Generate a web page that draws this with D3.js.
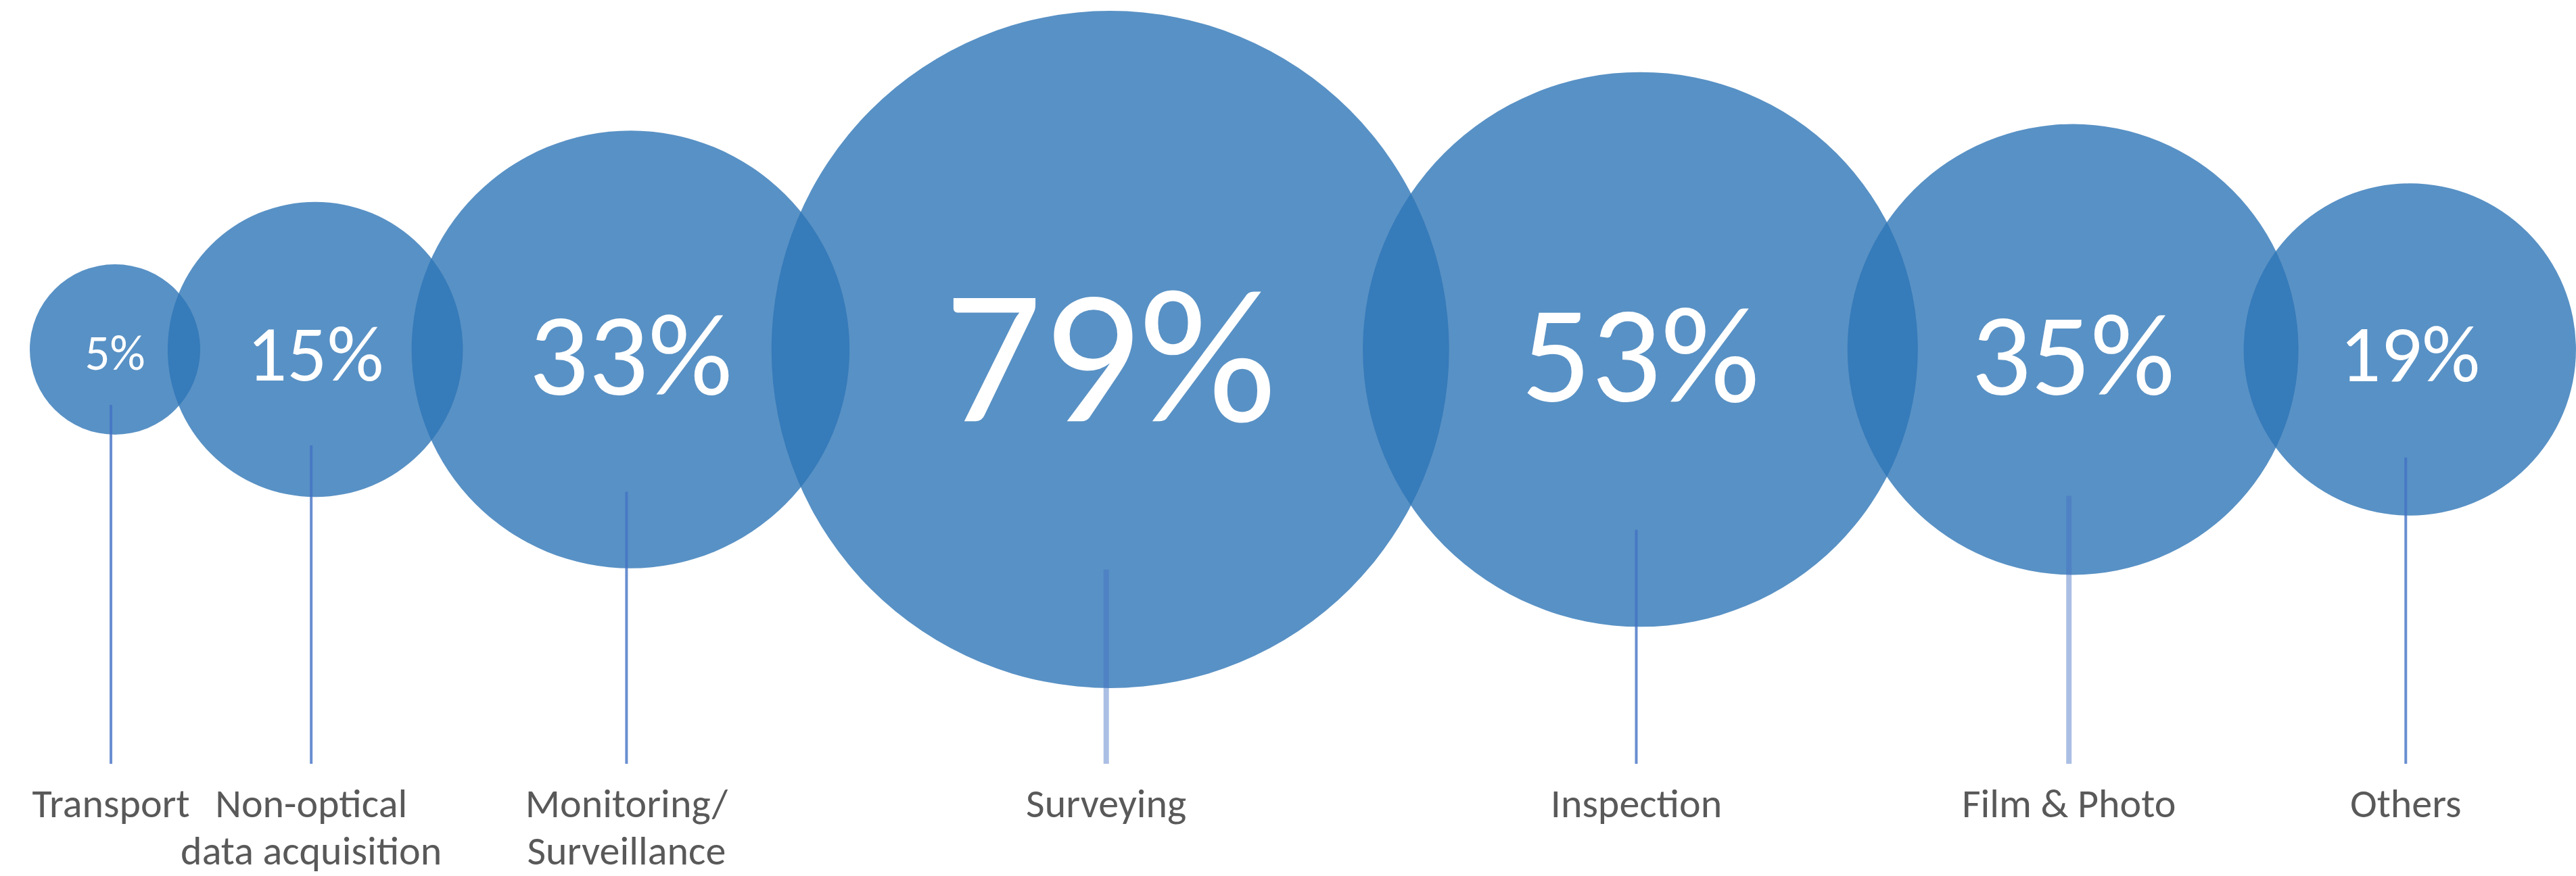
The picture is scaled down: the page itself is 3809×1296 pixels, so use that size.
<!DOCTYPE html>
<html>
<head>
<meta charset="utf-8">
<script src="https://cdn.jsdelivr.net/npm/d3@7"></script>
<style>
  html, body { margin: 0; padding: 0; background: #ffffff; }
  svg { display: block; }
</style>
</head>
<body>
<svg id="chart" width="3809" height="1296"></svg>
<script>
// ---- data ----
const categories = ["Transport", "Non-optical\ndata acquisition", "Monitoring/\nSurveillance", "Surveying", "Inspection", "Film & Photo", "Others"];
const values = [5, 15, 33, 79, 53, 35, 19];
const valueLabels = ["5%", "15%", "33%", "79%", "53%", "35%", "19%"];

// ---- styles (not data) ----
const pctFontSize = [73, 117, 174, 284, 204, 174, 120];
const lineStyle = [
  {w: 4, o: 0.8}, {w: 4, o: 0.8}, {w: 4, o: 0.8}, {w: 8, o: 0.45},
  {w: 4, o: 0.8}, {w: 8, o: 0.45}, {w: 4, o: 0.8}
];

const W = 3809, H = 1296;
const cy = 517;
const leftMargin = 44;
const gapFactor = 0.86;
const lineBottom = 1130;
const labelBaseline = 1209;
const labelLineHeight = 70;
const leaderShift = -6;

const svg = d3.select("#chart");

const r = d3.scaleSqrt().domain([0, d3.max(values)]).range([0, 501]);

// chained layout: neighbouring circles overlap by a fixed share of their radii
const xs = [];
values.forEach((v, i) => {
  if (i === 0) xs.push(leftMargin + r(v));
  else xs.push(xs[i - 1] + gapFactor * (r(values[i - 1]) + r(v)));
});

const data = values.map((v, i) => ({
  v, i, name: categories[i], label: valueLabels[i], x: xs[i], r: r(v)
}));

// circles
svg.append("g").selectAll("circle").data(data).join("circle")
  .attr("cx", d => d.x)
  .attr("cy", cy)
  .attr("r", d => d.r)
  .attr("fill", "#2E75B6")
  .attr("fill-opacity", 0.8);

// leader lines
svg.append("g").selectAll("line").data(data).join("line")
  .attr("x1", d => d.x + leaderShift).attr("x2", d => d.x + leaderShift)
  .attr("y1", d => cy + 0.65 * d.r)
  .attr("y2", lineBottom)
  .attr("stroke", "#4472C4")
  .attr("stroke-width", d => lineStyle[d.i].w)
  .attr("stroke-opacity", d => lineStyle[d.i].o);

const font = "Carlito, Calibri, Lato, 'Open Sans', sans-serif";

// value labels
svg.append("g").selectAll("text").data(data).join("text")
  .attr("x", d => d.x)
  .attr("y", d => cy + 4 + 0.36 * pctFontSize[d.i])
  .attr("text-anchor", "middle")
  .attr("font-family", font)
  .attr("font-size", d => pctFontSize[d.i])
  .attr("fill", "#ffffff")
  .text(d => d.label);

// category labels
const cat = svg.append("g").selectAll("text").data(data).join("text")
  .attr("x", d => d.x + leaderShift)
  .attr("y", labelBaseline)
  .attr("text-anchor", "middle")
  .attr("font-family", font)
  .attr("font-size", 60)
  .attr("fill", "#595959");
cat.each(function(d) {
  const lines = d.name.split("\n");
  d3.select(this).selectAll("tspan").data(lines).join("tspan")
    .attr("x", d.x + leaderShift)
    .attr("dy", (t, j) => j === 0 ? 0 : labelLineHeight)
    .text(t => t);
});
</script>
</body>
</html>
